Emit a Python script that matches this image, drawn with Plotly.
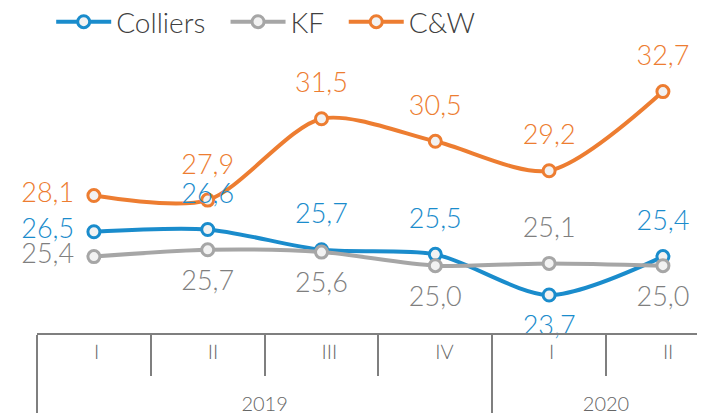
import plotly.graph_objects as go

years = ["2019", "2019", "2019", "2019", "2020", "2020"]
quarters = ["I", "II", "III", "IV", "I", "II"]
colliers = [26.5, 26.6, 25.7, 25.5, 23.7, 25.4]
kf = [25.4, 25.7, 25.6, 25.0, 25.1, 25.0]
cw = [28.1, 27.9, 31.5, 30.5, 29.2, 32.7]

colliers_pos = ["middle left", "top center", "top center", "top center", "bottom center", "top center"]
kf_pos = ["middle left", "bottom center", "bottom center", "bottom center", "top center", "bottom center"]
cw_pos = ["middle left", "top center", "top center", "top center", "top center", "top center"]

FONT = "Lato"
NBSP = "\u00a0"

def fmt(v):
    return f"{v:.1f}".replace(".", ",")

series = [
    ("Colliers", colliers, "#1a8ccc", "#1a8ccc", colliers_pos),
    ("KF", kf, "#a6a6a6", "#7f7f7f", kf_pos),
    ("C&W", cw, "#ed7d31", "#ed7d31", cw_pos),
]

fig = go.Figure()
for name, vals, col, tcol, pos in series:
    fig.add_trace(go.Scatter(
        x=[years, quarters], y=vals, name=name + NBSP * 2,
        mode="lines+markers",
        line=dict(color=col, width=4, shape="spline", smoothing=0.8),
        marker=dict(size=12, color="#f2f2f2", line=dict(color=col, width=3)),
        cliponaxis=False,
    ))
for name, vals, col, tcol, pos in series:
    fig.add_trace(go.Scatter(
        x=[years, quarters], y=vals, name=name + " labels",
        mode="markers+text", showlegend=False, hoverinfo="skip",
        marker=dict(size=30, color="rgba(0,0,0,0)"),
        text=[fmt(v) for v in vals], textposition=pos,
        textfont=dict(family=FONT, size=27, color=tcol, weight=300),
        cliponaxis=False,
    ))

fig.update_layout(
    width=705, height=413,
    margin=dict(l=29, r=0, t=42, b=88, autoexpand=False),
    paper_bgcolor="white", plot_bgcolor="white",
    showlegend=True,
    legend=dict(orientation="h", x=0.021, xanchor="left", y=1.099, yanchor="middle",
                font=dict(family=FONT, size=28, color="#404040", weight=300),
                itemwidth=55, traceorder="normal", bgcolor="rgba(0,0,0,0)"),
    font=dict(family=FONT),
)
fig.update_xaxes(
    type="multicategory", range=[-0.5, 5.44], automargin=False,
    showline=True, linecolor="#7f7f7f", linewidth=2,
    ticks="outside", ticklen=41, tickcolor="#7f7f7f", tickwidth=2,
    tickangle=0.1,
    showdividers=True, dividercolor="#7f7f7f", dividerwidth=2,
    tickfont=dict(family=FONT, size=20, color="#666666", weight=300),
    showgrid=False, zeroline=False,
)
fig.update_yaxes(range=[22.02, 34.54], visible=False, showgrid=False, zeroline=False, automargin=False)

fig.write_html("out.html")
